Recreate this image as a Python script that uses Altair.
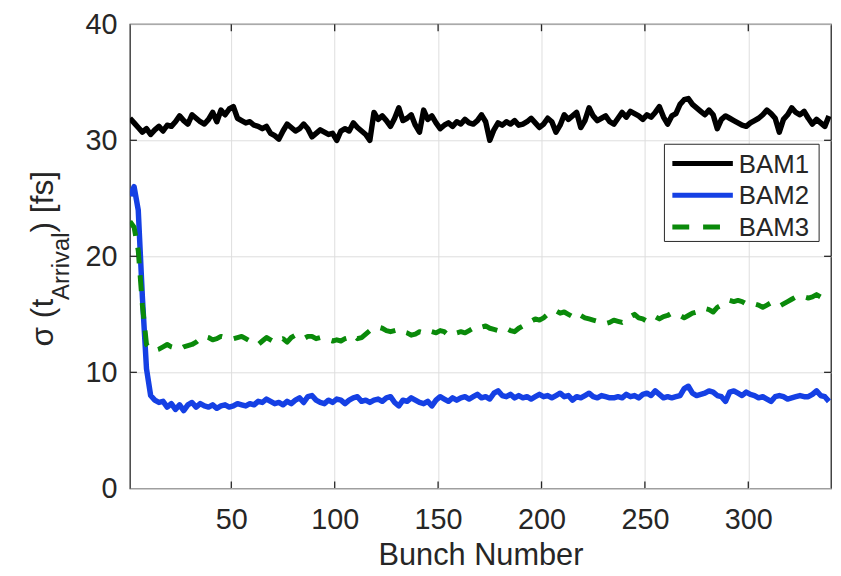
import altair as alt
import pandas as pd

# ---- data (one value every 2nd bunch: 1, 3, ..., 339) ----
bam1 = [31.9, 31.5, 31.1, 30.7, 31.0, 30.5, 30.9, 31.2, 30.8, 31.3,
        31.2, 31.6, 32.1, 31.7, 31.4, 32.2, 31.9, 31.6, 31.4, 31.8,
        32.4, 31.6, 32.6, 32.2, 32.7, 32.9, 31.9, 31.7, 31.5, 31.6,
        31.3, 31.2, 31.0, 31.2, 30.6, 30.4, 30.1, 30.8, 31.4, 31.1,
        30.8, 31.0, 31.4, 31.0, 30.3, 30.6, 30.9, 30.7, 30.5, 30.6,
        30.0, 30.8, 31.0, 30.8, 31.5, 31.1, 30.8, 30.5, 30.0, 32.4,
        31.8, 32.1, 31.7, 31.2, 31.9, 32.8, 31.7, 31.9, 32.2, 31.3,
        30.7, 32.6, 31.8, 32.1, 31.5, 31.0, 31.3, 31.5, 31.2, 31.6,
        31.4, 31.8, 31.5, 31.4, 31.7, 32.2, 31.6, 30.0, 30.9, 31.5,
        31.3, 31.6, 31.4, 31.7, 31.3, 31.4, 31.6, 31.9, 31.5, 31.1,
        31.4, 31.9, 31.6, 30.7, 31.3, 32.2, 31.8, 32.1, 32.4, 31.1,
        31.7, 32.8, 32.1, 31.7, 31.9, 32.1, 31.6, 31.4, 31.9, 32.4,
        32.0, 32.5, 32.3, 32.1, 31.8, 32.2, 32.0, 32.4, 32.9, 32.0,
        31.4, 32.1, 32.3, 33.1, 33.5, 33.6, 33.1, 32.8, 32.5, 32.2,
        32.6, 32.2, 31.0, 31.8, 32.1, 31.9, 31.7, 31.5, 31.3, 31.2,
        31.5, 31.7, 31.9, 32.2, 32.6, 32.3, 31.9, 30.7, 31.8, 32.2,
        32.8, 32.4, 32.2, 32.5, 31.9, 31.4, 31.8, 31.5, 31.2, 32.1]

bam2 = [25.2, 26.0, 24.0, 16.5, 10.3, 8.0, 7.6, 7.4, 7.5, 7.0,
        7.3, 6.8, 7.2, 6.7, 7.2, 7.4, 7.0, 7.3, 7.1, 7.0,
        7.2, 6.9, 7.1, 7.2, 7.0, 7.1, 7.3, 7.2, 7.1, 7.3,
        7.2, 7.5, 7.4, 7.7, 7.5, 7.3, 7.4, 7.2, 7.5, 7.3,
        7.6, 7.8, 7.4, 7.9, 8.0, 7.6, 7.4, 7.3, 7.6, 7.4,
        7.7, 7.6, 7.3, 7.6, 7.8, 7.9, 7.5, 7.6, 7.4, 7.6,
        7.7, 7.5, 7.8, 7.9, 7.4, 7.1, 7.6, 7.5, 7.8, 7.6,
        7.4, 7.3, 7.5, 7.1, 7.6, 7.9, 7.7, 7.5, 7.8, 7.6,
        7.8, 7.9, 7.7, 7.9, 8.1, 7.8, 7.9, 7.7, 8.2, 8.4,
        8.0, 7.9, 8.1, 7.8, 8.0, 7.8, 7.9, 7.7, 7.9, 8.1,
        7.9, 8.0, 7.8, 8.0, 8.2, 7.9, 8.0, 7.6, 7.9, 7.8,
        8.0, 8.2, 7.9, 7.8, 8.0, 7.9, 7.8, 7.8, 7.9, 7.8,
        8.1, 7.9, 8.0, 7.8, 8.1, 8.2, 8.0, 8.4, 8.1, 7.8,
        7.9, 7.8, 7.9, 8.0, 8.6, 8.8, 8.2, 8.0, 8.1, 8.2,
        8.4, 8.3, 8.0, 7.9, 7.5, 8.3, 8.4, 8.2, 8.0, 8.3,
        8.1, 8.0, 7.8, 7.9, 7.7, 7.5, 7.9, 8.0, 7.9, 7.7,
        7.8, 7.9, 8.0, 7.9, 7.9, 8.1, 8.4, 8.0, 7.9, 7.5]

bam3 = [23.0, 22.5, 20.5, 15.8, 12.4, 12.0, 11.9, 12.0, 12.2, 12.4,
        12.2, 12.1, 12.0, 12.2, 12.3, 12.4, 12.6, 12.9, 13.1, 13.0,
        12.8, 12.9, 13.1, 13.0, 13.0, 12.9, 13.0, 13.1, 12.9, 12.7,
        12.5, 12.4, 12.7, 13.0, 12.8, 12.6, 12.8, 12.9, 12.6, 13.0,
        13.2, 13.0, 12.9, 13.1, 13.1, 12.9, 13.0, 12.9, 12.8, 12.7,
        12.8, 12.7, 12.9, 13.0, 13.2, 12.9, 13.0, 13.3, 13.6, 13.8,
        13.9, 13.8, 13.6, 13.5, 13.6, 13.7, 13.5, 13.4, 13.2, 13.3,
        13.5, 13.4, 13.6, 13.5, 13.4, 13.6, 13.5, 13.2, 13.3, 13.4,
        13.5, 13.4, 13.6, 13.8, 14.0, 13.9, 14.0, 13.8, 13.7, 13.6,
        13.7, 13.8, 13.6, 13.5, 13.8, 14.0, 14.2, 14.4, 14.6, 14.5,
        14.7, 15.0, 15.2, 15.3, 15.1, 15.2, 15.0, 14.8, 14.6, 14.9,
        14.7, 14.6, 14.5, 14.4, 14.3, 14.2, 14.3, 14.5, 14.4, 14.3,
        14.5, 14.8, 15.0, 14.7, 14.6, 14.4, 14.6, 14.8, 14.6, 14.8,
        14.9, 15.1, 15.0, 14.9, 14.7, 14.9, 15.1, 15.2, 15.3, 15.5,
        15.4, 15.2, 15.6, 15.8, 16.0, 16.2, 16.1, 16.2, 16.1, 15.9,
        15.8, 15.9, 15.8, 15.6, 15.8, 16.0, 15.9, 15.7, 15.9, 16.1,
        16.3, 16.5, 16.6, 16.5, 16.4, 16.5, 16.7, 16.5, 16.4, 16.2]

bunch = list(range(1, 341, 2))
series_names = ["BAM1", "BAM2", "BAM3"]
series_colors = ["#000000", "#1540e4", "#0a8a0a"]
x_ticks = [50, 100, 150, 200, 250, 300]
y_ticks = [0, 10, 20, 30, 40]
x_domain = [1, 340]
y_domain = [0, 40]

# ---- styling ----
W, H = 707, 468
FONT = "Liberation Sans"
TXT = "#262626"
TICKLEN = 7

xs = alt.Scale(domain=x_domain, nice=False, zero=False)
ys = alt.Scale(domain=y_domain, nice=False, zero=False)

x_axis = alt.Axis(values=x_ticks, grid=True, gridColor="#dedede", gridWidth=1,
                  ticks=False, tickSize=0, domain=False,
                  labelFont=FONT, labelFontSize=29, labelColor=TXT, labelPadding=18,
                  title="Bunch Number", titleFont=FONT, titleFontSize=31,
                  titleFontWeight="normal", titleColor=TXT, titlePadding=6)
y_axis = alt.Axis(values=y_ticks, grid=True, gridColor="#dedede", gridWidth=1,
                  ticks=False, tickSize=0, domain=False,
                  labelFont=FONT, labelFontSize=29, labelColor=TXT, labelPadding=13,
                  title=None)

X = lambda: alt.X("bunch:Q", scale=xs, axis=x_axis)
Y = lambda: alt.Y("sigma:Q", scale=ys, axis=y_axis)


def series_line(vals, color, dash=None):
    df = pd.DataFrame({"bunch": bunch[:len(vals)], "sigma": vals})
    kw = dict(color=color, strokeWidth=5.5, clip=True, strokeJoin="round")
    if dash:
        kw["strokeDash"] = dash
        kw["strokeWidth"] = 5
    return alt.Chart(df).mark_line(**kw).encode(x=X(), y=Y())


lines = [
    series_line(bam1, series_colors[0]),
    series_line(bam2, series_colors[1]),
    series_line(bam3, series_colors[2], dash=[16, 12]),
]

# inward ticks on all four sides (MATLAB box style)
xt = pd.DataFrame({"bunch": x_ticks})
yt = pd.DataFrame({"sigma": y_ticks[1:-1]})
tick_style = dict(color=TXT, strokeWidth=1.3)
ticks = [
    alt.Chart(xt).mark_rule(**tick_style).encode(
        x=X(), y=alt.value(H), y2=alt.value(H - TICKLEN)),
    alt.Chart(xt).mark_rule(**tick_style).encode(
        x=X(), y=alt.value(0), y2=alt.value(TICKLEN)),
    alt.Chart(yt).mark_rule(**tick_style).encode(
        y=Y(), x=alt.value(0), x2=alt.value(TICKLEN)),
    alt.Chart(yt).mark_rule(**tick_style).encode(
        y=Y(), x=alt.value(W), x2=alt.value(W - TICKLEN)),
]

one = pd.DataFrame({"k": [0]})

# legend (drawn by hand, MATLAB style)
LX0, LX1, LY0, LY1 = 539, 695, 121, 219
legend_rows = [140.5, 172.5, 204.5]
legend = [alt.Chart(one).mark_rect(fill="white", stroke=TXT, strokeWidth=1).encode(
    x=alt.value(LX0), x2=alt.value(LX1), y=alt.value(LY0), y2=alt.value(LY1))]
for name, col, ly, dash in zip(series_names, series_colors, legend_rows,
                               [None, None, [17, 14]]):
    kw = dict(color=col, strokeWidth=5)
    if dash:
        kw["strokeDash"] = dash
    legend.append(alt.Chart(one).mark_rule(**kw).encode(
        x=alt.value(547), x2=alt.value(608), y=alt.value(ly)))
    legend.append(alt.Chart(one).mark_text(
        text=name, align="left", baseline="middle", font=FONT, fontSize=26, color=TXT
    ).encode(x=alt.value(614), y=alt.value(ly + 1)))

# y-axis title with subscript: sigma (t_Arrival) [fs]
ytitle = [
    alt.Chart(one).mark_text(text="σ (t", angle=270, align="left", baseline="alphabetic",
                             font=FONT, fontSize=32, color=TXT).encode(
        x=alt.value(-78), y=alt.value(325)),
    alt.Chart(one).mark_text(text="Arrival", angle=270, align="left", baseline="alphabetic",
                             font=FONT, fontSize=24, color=TXT).encode(
        x=alt.value(-61), y=alt.value(278)),
    alt.Chart(one).mark_text(text=") [fs]", angle=270, align="left", baseline="alphabetic",
                             font=FONT, fontSize=32, color=TXT).encode(
        x=alt.value(-78), y=alt.value(210)),
]

chart = alt.layer(*lines, *ticks, *legend, *ytitle).properties(
    width=W, height=H,
    padding={"left": 123, "top": 14, "right": 2, "bottom": 88},
    autosize=alt.AutoSizeParams(type="none"),
).configure_view(stroke=TXT, strokeWidth=1.3)

chart.save("out.html", embed_options={"renderer": "svg", "actions": False})
